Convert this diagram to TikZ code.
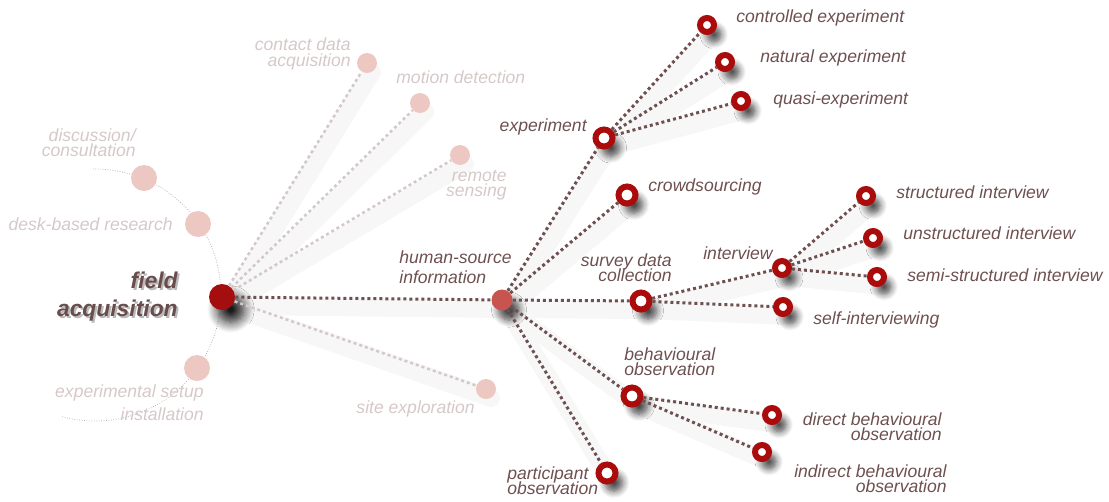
\documentclass[tikz,border=0pt]{standalone}
\usepackage{fontspec}
\setmainfont{Liberation Sans}
\usetikzlibrary{shadows.blur,backgrounds}
\definecolor{ringred}{RGB}{170,12,12}
\definecolor{rootred}{RGB}{165,14,14}
\definecolor{hubred}{RGB}{200,84,80}
\definecolor{ink}{RGB}{110,80,80}
\definecolor{paletext}{RGB}{214,200,200}
\definecolor{palefill}{RGB}{237,200,194}
\definecolor{paleline}{RGB}{212,200,200}
\AtBeginDocument{\lineskiplimit-20pt}
\tikzset{
  sh/.style={blur shadow={shadow xshift=4pt,shadow yshift=-5.5pt,shadow blur radius=4pt,shadow opacity=70,shadow blur steps=8}},
  ring/.style={circle,draw=ringred,fill=white,line width=0.12cm,minimum size=0.28cm,inner sep=0pt,sh},
  bigring/.style={ring,minimum size=0.34cm},
  pale/.style={circle,fill=palefill,inner sep=0pt,minimum size=0.4cm},
  bigpale/.style={pale,minimum size=0.52cm},
  link/.style={draw=ink,line width=0.06cm,dash pattern=on 0.06cm off 0.06cm},
  palelink/.style={link,draw=paleline,line width=0.05cm},
  glow/.style={line width=0.36cm,black!3,line cap=round},
  lbl/.style={font={\itshape\fontsize{10}{8.6}\selectfont},text=ink,inner sep=0pt},
  palelbl/.style={lbl,text=paletext}
}

\begin{document}
\begin{tikzpicture}[x=0.02cm,y=-0.02cm]
\useasboundingbox (0,0) rectangle (1109,501);

% root and hub
\node[circle,fill=rootred,inner sep=0pt,minimum size=0.52cm,
  blur shadow={shadow xshift=5pt,shadow yshift=-7pt,shadow blur radius=6pt,shadow opacity=90,shadow blur steps=10}] (fa) at (222,297) {};
\node[circle,fill=hubred,inner sep=0pt,minimum size=0.42cm,sh] (hs) at (502,300) {};

% faded branches
\foreach \n/\p in {contact/{367,63},motion/{420,103},remote/{460,155},site/{486,389}}
  \node[pale] (\n) at (\p) {};
\foreach \n/\p in {disc/{144,178},desk/{198,224},setup/{197,368}}
  \node[bigpale] (\n) at (\p) {};

% human-source branches
\foreach \n/\p in {exp/{604,138},crowd/{627,195},survey/{641,301},behav/{632,396},partic/{607,473}}
  \node[bigring] (\n) at (\p) {};
\foreach \n/\p in {ctrl/{707,25},nat/{725,62},quasi/{741,101},intv/{782,268},struct/{866,196},
  unstr/{873,238},semi/{877,277},self/{783,307},direct/{772,415},indirect/{762,452}}
  \node[ring] (\n) at (\p) {};

\begin{scope}[on background layer]
  \draw[black!35,line width=0.4pt,densely dotted] (95,295) ++(-91:126) arc[start angle=-91,end angle=105,radius=126];
  \foreach \a/\b in {fa/contact,fa/motion,fa/remote,fa/site,fa/hs,hs/exp,hs/crowd,hs/survey,hs/behav,hs/partic,
    exp/ctrl,exp/nat,exp/quasi,survey/intv,survey/self,intv/struct,intv/unstr,intv/semi,behav/direct,behav/indirect}
    \draw[glow] ([shift={(5,9)}]\a.center) -- ([shift={(5,9)}]\b.center);
  \node[font={\bfseries\itshape\fontsize{13}{16}\selectfont},text=black!45,opacity=.6,align=right,anchor=east,inner sep=0pt]
    (fa-sh) at (180,299) {field\\acquisition};
\end{scope}

% connectors
\foreach \b in {contact,motion,remote,site}
  \draw[palelink] (fa) -- (\b);
\draw[link] (fa) -- (hs);
\foreach \b in {exp,crowd,survey,behav,partic}
  \draw[link] (hs) -- (\b);
\foreach \a/\b in {exp/ctrl,exp/nat,exp/quasi,survey/intv,survey/self,intv/struct,intv/unstr,intv/semi,behav/direct,behav/indirect}
  \draw[link] (\a) -- (\b);

% labels
\node[font={\bfseries\itshape\fontsize{13}{16}\selectfont},text=ink!95!black,align=right,anchor=east,inner sep=0pt]
  (fa-t) at (178,297) {field\\acquisition};
\node[lbl,align=left,anchor=west,font={\itshape\fontsize{10}{11.4}\selectfont}] (hs-t) at (399,267) {human-source\\information};
\node[palelbl,align=right,anchor=east] (contact-t) at (351,54) {contact data\\acquisition};
\node[palelbl,anchor=west] (motion-t) at (396,77) {motion detection};
\node[palelbl,align=right,anchor=east] (remote-t) at (507,185) {remote\\sensing};
\node[palelbl,anchor=east] (site-t) at (475,409) {site exploration};
\node[palelbl,align=right,anchor=east] (disc-t) at (136,143) {discussion/\\consultation};
\node[palelbl,anchor=east] (desk-t) at (173,224) {desk-based research};
\node[palelbl,align=right,anchor=east,font={\itshape\fontsize{10}{13}\selectfont}] (setup-t) at (204,403) {experimental setup\\installation};
\node[lbl,anchor=east] (exp-t) at (587,127) {experiment};
\node[lbl,anchor=west] (ctrl-t) at (736,18) {controlled experiment};
\node[lbl,anchor=west] (nat-t) at (760,58) {natural experiment};
\node[lbl,anchor=west] (quasi-t) at (773,100) {quasi-experiment};
\node[lbl,anchor=west] (crowd-t) at (648,187) {crowdsourcing};
\node[lbl,align=right,anchor=east] (survey-t) at (672,268) {survey data\\collection};
\node[lbl,anchor=east] (intv-t) at (773,253) {interview};
\node[lbl,anchor=west] (struct-t) at (896,192) {structured interview};
\node[lbl,anchor=west] (unstr-t) at (903,233) {unstructured interview};
\node[lbl,anchor=west] (semi-t) at (907,275) {semi-structured interview};
\node[lbl,anchor=west] (self-t) at (813,320) {self-interviewing};
\node[lbl,align=left,anchor=west] (behav-t) at (624,362) {behavioural\\observation};
\node[lbl,align=right,anchor=east] (direct-t) at (942,427) {direct behavioural\\observation};
\node[lbl,align=right,anchor=east] (indirect-t) at (947,479) {indirect behavioural\\observation};
\node[lbl,align=left,anchor=west] (partic-t) at (507,481) {participant\\observation};
\end{tikzpicture}
\end{document}
